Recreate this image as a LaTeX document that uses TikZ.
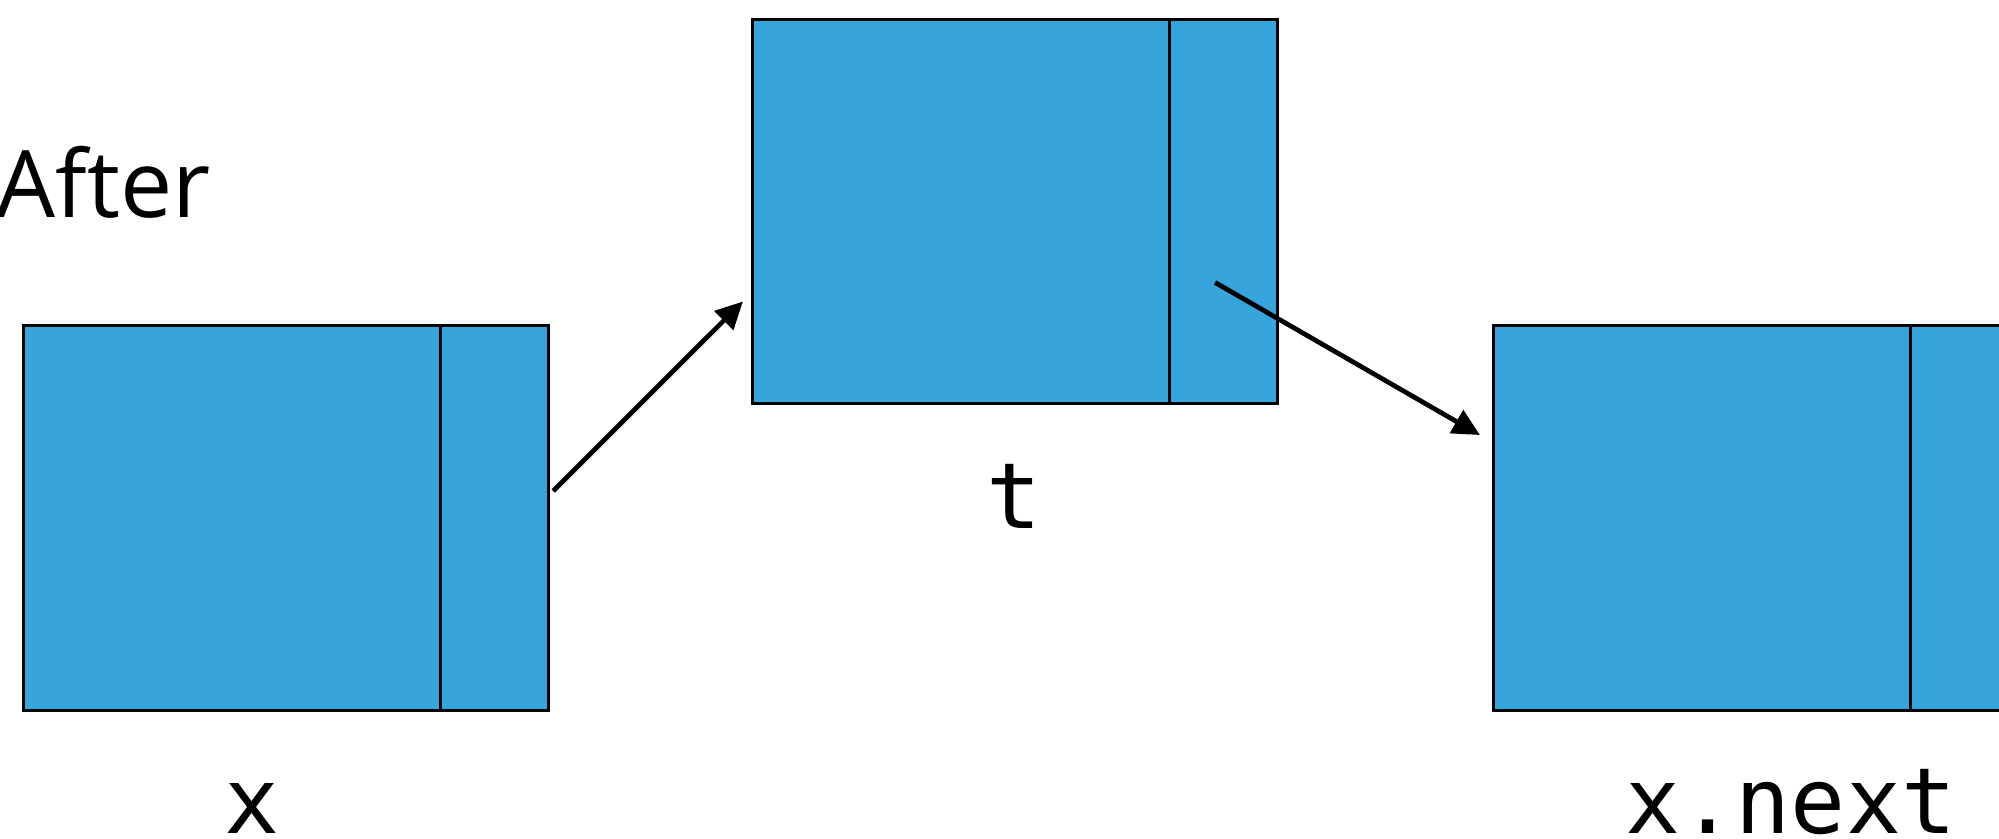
\documentclass[tikz,border=0pt]{standalone}
\usepackage{fontspec}
\setmainfont{Open Sans}
\setmonofont{DejaVu Sans Mono}
\usepackage{xcolor}
\usepackage{tikz}
\usetikzlibrary{positioning, arrows.meta}
\definecolor{nodeColor}{HTML}{35A5DB}

\tikzset{
    field/.style={draw, line width=0.85pt, fill=nodeColor, minimum height=3.84cm, inner sep=0pt, outer sep=0pt},
    datafield/.style={field, minimum width=4.16cm},
    ptrfield/.style={field, minimum width=1.08cm},
    link/.style={line width=1.35pt, -{Triangle[length=0.27cm, width=0.26cm]}},
    label/.style={font=\fontsize{26}{30}\ttfamily, anchor=base, inner sep=0pt}
}

\begin{document}
\begin{tikzpicture}[x=0.01cm, y=-0.01cm]
    \useasboundingbox (0,0) rectangle (1999,839);
    \node[label, anchor=base west, font=\fontsize{26.5}{30}\selectfont] (after) at (-4,217) {After};

    \node[datafield] (xdata) at (232,518) {};
    \node[ptrfield, right=0pt of xdata] (xptr) {};
    \node[datafield] (tdata) at (961,211.5) {};
    \node[ptrfield, right=0pt of tdata] (tptr) {};
    \node[datafield] (ndata) at (1702,518) {};
    \node[ptrfield, right=0pt of ndata] (nptr) {};

    \node[label] (xlabel) at (252,833) {x};
    \node[label] (tlabel) at (1014,528) {t};
    \node[label] (nlabel) at (1791,833) {x.next};

    \draw[link] ([shift={(5,-27)}]xptr.east) -- ([shift={(-10,90)}]tdata.west);
    \draw[link] ([shift={(-8,71)}]tptr.center) -- ([shift={(-14,-83)}]ndata.west);
\end{tikzpicture}
\end{document}
